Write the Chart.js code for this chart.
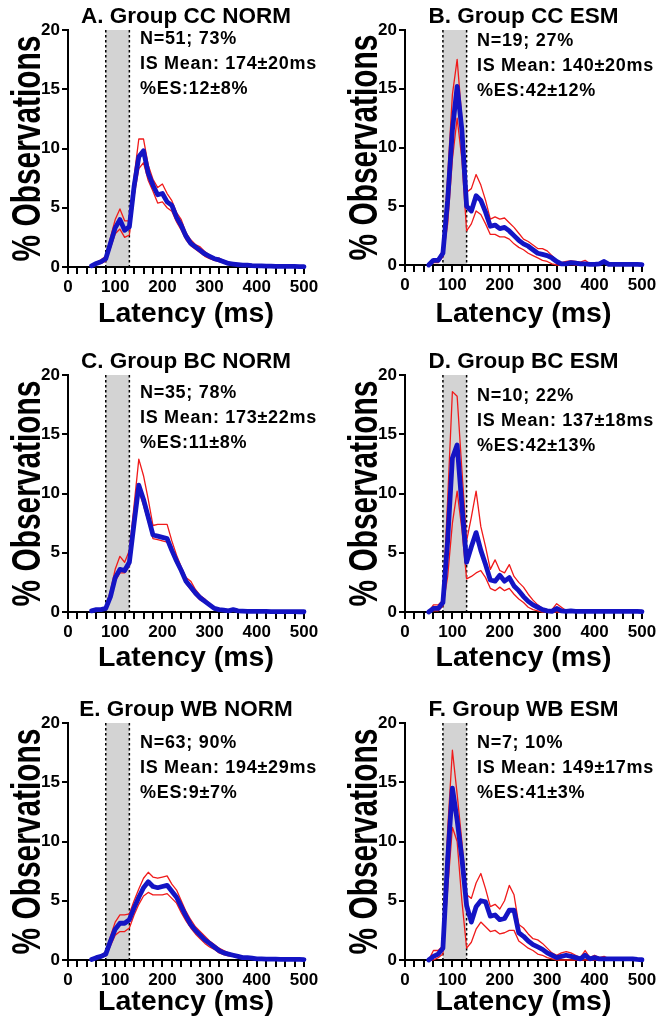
<!DOCTYPE html>
<html lang="en">

<head>
    <meta charset="UTF-8">
    <title>Latency distributions</title>
    <style>
        body { margin: 0; background: #fff; }
        #page { position: relative; width: 664px; height: 1032px; background: #fff; }
        .panel { position: absolute; width: 332px; height: 344px; }
    </style>
</head>

<body>
    <div id="page">
        <div class="panel" style="left:0;top:0"><canvas id="cA" width="332" height="344"></canvas></div>
        <div class="panel" style="left:332px;top:0"><canvas id="cB" width="332" height="344"></canvas></div>
        <div class="panel" style="left:0;top:344px"><canvas id="cC" width="332" height="344"></canvas></div>
        <div class="panel" style="left:332px;top:344px"><canvas id="cD" width="332" height="344"></canvas></div>
        <div class="panel" style="left:0;top:688px"><canvas id="cE" width="332" height="344"></canvas></div>
        <div class="panel" style="left:332px;top:688px"><canvas id="cF" width="332" height="344"></canvas></div>
    </div>

    <script src="https://cdn.jsdelivr.net/npm/chart.js"></script>
    <script>
        // latency bins (ms)
        const latency = [50, 60, 70, 80, 90, 100, 110, 120, 130, 140, 150, 160, 170, 180, 190, 200, 210, 220, 230, 240,
            250, 260, 270, 280, 290, 300, 310, 320, 330, 340, 350, 360, 370, 380, 390, 400, 410, 420, 430, 440,
            450, 460, 470, 480, 490, 500];
        const xTicks = [0, 100, 200, 300, 400, 500];
        const yTicks = [0, 5, 10, 15, 20];
        const band = [80, 130];

        // A. CC NORM
        const meanA = [0.1, 0.3, 0.45, 0.7, 2.0, 3.3, 4.0, 3.1, 3.4, 6.8, 9.3, 9.8, 7.9, 6.9, 6.1, 6.2, 5.5, 5.2, 4.2, 3.5, 2.6, 2.0, 1.7, 1.4, 1.1, 0.9, 0.7, 0.6, 0.45, 0.3, 0.25, 0.2, 0.15, 0.15, 0.12, 0.1, 0.1, 0.08, 0.08, 0.06, 0.06, 0.05, 0.05, 0.05, 0.04, 0.03];
        const upA = [0.15, 0.4, 0.6, 0.9, 2.5, 4.0, 4.9, 3.9, 3.9, 7.6, 10.8, 10.8, 8.6, 7.4, 6.7, 7.0, 6.2, 5.6, 4.6, 4.0, 2.9, 2.3, 1.9, 1.7, 1.3, 1.0, 0.8, 0.75, 0.55, 0.4, 0.3, 0.25, 0.2, 0.2, 0.15, 0.12, 0.12, 0.1, 0.1, 0.08, 0.08, 0.06, 0.06, 0.06, 0.05, 0.04];
        const loA = [0.05, 0.2, 0.3, 0.5, 1.6, 2.8, 3.2, 2.5, 2.7, 6.0, 8.3, 8.8, 7.3, 6.4, 5.4, 5.5, 5.0, 4.7, 3.8, 3.1, 2.3, 1.8, 1.5, 1.2, 0.9, 0.7, 0.55, 0.45, 0.35, 0.2, 0.2, 0.15, 0.1, 0.1, 0.08, 0.06, 0.06, 0.05, 0.05, 0.04, 0.04, 0.03, 0.03, 0.03, 0.02, 0.02];

        // B. CC ESM
        const meanB = [0, 0.4, 0.4, 1.0, 5.5, 11.5, 15.2, 11.5, 5.0, 4.6, 5.9, 5.5, 4.5, 3.3, 3.4, 3.1, 3.2, 2.9, 2.5, 2.1, 1.8, 1.6, 1.3, 1.0, 0.9, 0.8, 0.6, 0.3, 0.1, 0.1, 0.2, 0.15, 0.1, 0.1, 0.05, 0.05, 0.1, 0.3, 0.05, 0.05, 0.05, 0.05, 0.05, 0.05, 0.05, 0.03];
        const upB = [0, 0.5, 0.5, 1.3, 7.5, 14.5, 17.5, 12.5, 6.2, 6.5, 7.7, 6.8, 5.5, 3.9, 4.1, 3.9, 4.0, 3.6, 3.2, 2.7, 2.2, 2.0, 1.7, 1.4, 1.4, 1.2, 0.8, 0.4, 0.2, 0.3, 0.35, 0.3, 0.25, 0.4, 0.1, 0.1, 0.15, 0.35, 0.1, 0.1, 0.1, 0.1, 0.1, 0.08, 0.08, 0.05];
        const loB = [0, 0.2, 0.2, 0.7, 3.5, 9.0, 12.5, 9.0, 2.9, 3.5, 4.6, 4.3, 3.5, 2.6, 2.6, 2.4, 2.4, 2.2, 1.8, 1.5, 1.3, 1.0, 0.8, 0.6, 0.4, 0.3, 0.1, 0, 0, 0, 0.05, 0, 0, 0, 0, 0, 0.05, 0.2, 0, 0, 0, 0, 0, 0, 0, 0];

        // C. BC NORM
        const meanC = [0.1, 0.2, 0.2, 0.3, 1.3, 2.9, 3.6, 3.5, 4.2, 7.5, 10.7, 9.5, 8.0, 6.5, 6.4, 6.3, 6.2, 5.2, 4.3, 3.5, 2.6, 2.1, 1.6, 1.2, 0.9, 0.6, 0.3, 0.2, 0.15, 0.1, 0.2, 0.1, 0.08, 0.06, 0.05, 0.05, 0.05, 0.05, 0.04, 0.04, 0.04, 0.03, 0.03, 0.03, 0.02, 0.02];
        const upC = [0.12, 0.25, 0.25, 0.4, 1.8, 3.6, 4.7, 4.2, 5.2, 9.0, 12.9, 11.5, 9.5, 7.3, 7.4, 7.4, 7.4, 6.0, 4.8, 3.8, 2.9, 2.6, 1.9, 1.4, 1.1, 0.7, 0.4, 0.3, 0.2, 0.15, 0.25, 0.15, 0.1, 0.08, 0.07, 0.06, 0.06, 0.06, 0.05, 0.05, 0.05, 0.04, 0.04, 0.04, 0.03, 0.03];
        const loC = [0.08, 0.15, 0.15, 0.25, 1.1, 2.6, 3.3, 3.3, 3.9, 7.0, 10.2, 9.0, 7.6, 6.2, 6.1, 6.0, 5.9, 5.0, 4.1, 3.3, 2.4, 1.9, 1.4, 1.0, 0.8, 0.5, 0.25, 0.15, 0.1, 0.08, 0.15, 0.08, 0.06, 0.05, 0.04, 0.04, 0.04, 0.04, 0.03, 0.03, 0.03, 0.02, 0.02, 0.02, 0.01, 0.01];

        // D. BC ESM
        const meanD = [0, 0.3, 0.3, 0.8, 6.0, 13.0, 14.1, 9.0, 4.2, 5.5, 6.7, 5.2, 4.0, 2.7, 2.6, 3.1, 2.6, 2.9, 2.2, 1.8, 1.3, 0.9, 0.6, 0.4, 0.2, 0.1, 0.05, 0.3, 0.1, 0.05, 0.1, 0.05, 0.05, 0.05, 0.05, 0.05, 0.05, 0.05, 0.05, 0.05, 0.05, 0.05, 0.05, 0.05, 0.05, 0.03];
        const upD = [0, 0.6, 0.6, 1.0, 9.5, 18.6, 18.2, 12.0, 6.0, 8.0, 10.2, 7.2, 5.5, 3.6, 4.4, 3.5, 3.3, 4.0, 3.0, 2.5, 2.1, 1.5, 1.0, 0.6, 0.3, 0.2, 0.2, 0.7, 0.4, 0.1, 0.2, 0.1, 0.1, 0.1, 0.1, 0.1, 0.1, 0.1, 0.1, 0.1, 0.1, 0.1, 0.1, 0.1, 0.1, 0.05];
        const loD = [0, 0.1, 0.1, 0.5, 3.0, 7.5, 10.2, 7.0, 2.8, 3.0, 3.3, 3.5, 2.9, 2.0, 1.8, 2.1, 1.8, 2.0, 1.5, 1.1, 0.8, 0.4, 0.2, 0.1, 0, 0, 0, 0, 0, 0, 0, 0, 0, 0, 0, 0, 0, 0, 0, 0, 0, 0, 0, 0, 0, 0];

        // E. WB NORM
        const meanE = [0.05, 0.2, 0.3, 0.5, 1.6, 2.6, 3.1, 3.1, 3.4, 4.4, 5.3, 6.1, 6.6, 6.2, 6.1, 6.2, 6.3, 5.8, 5.3, 4.5, 3.7, 3.0, 2.5, 2.1, 1.7, 1.4, 1.1, 0.8, 0.6, 0.5, 0.4, 0.3, 0.2, 0.2, 0.15, 0.1, 0.1, 0.08, 0.08, 0.07, 0.06, 0.06, 0.05, 0.05, 0.05, 0.04];
        const upE = [0.08, 0.3, 0.4, 0.7, 2.0, 3.2, 3.8, 3.8, 3.9, 5.0, 6.0, 6.9, 7.4, 7.0, 6.9, 7.0, 7.1, 6.4, 5.9, 5.0, 4.1, 3.4, 2.8, 2.4, 2.0, 1.6, 1.3, 1.0, 0.8, 0.6, 0.5, 0.4, 0.3, 0.25, 0.2, 0.15, 0.12, 0.1, 0.1, 0.08, 0.08, 0.07, 0.06, 0.06, 0.06, 0.05];
        const loE = [0.03, 0.1, 0.2, 0.35, 1.2, 2.1, 2.4, 2.4, 2.7, 3.8, 4.7, 5.4, 5.7, 5.5, 5.5, 5.5, 5.6, 5.2, 4.8, 4.0, 3.3, 2.7, 2.2, 1.8, 1.4, 1.1, 0.9, 0.6, 0.45, 0.35, 0.3, 0.2, 0.15, 0.12, 0.1, 0.07, 0.07, 0.06, 0.06, 0.05, 0.04, 0.04, 0.04, 0.04, 0.03, 0.03];

        // F. WB ESM
        const meanF = [0, 0.3, 0.5, 1.0, 8.5, 14.5, 11.8, 8.6, 4.6, 3.2, 4.5, 5.0, 4.9, 3.7, 3.8, 3.4, 3.5, 4.2, 4.2, 2.3, 2.0, 1.6, 1.3, 1.1, 0.9, 0.6, 0.4, 0.2, 0.3, 0.4, 0.3, 0.2, 0.1, 0.4, 0.1, 0.2, 0.1, 0.1, 0.1, 0.1, 0.1, 0.1, 0.1, 0.1, 0.05, 0.02];
        const upF = [0, 0.8, 0.8, 1.2, 11.0, 17.7, 14.0, 10.0, 5.5, 5.2, 6.5, 7.3, 6.0, 4.5, 4.7, 4.3, 5.0, 6.3, 5.5, 3.0, 2.7, 2.2, 1.8, 1.7, 1.4, 1.0, 0.6, 0.4, 0.6, 0.7, 0.6, 0.4, 0.2, 0.8, 0.2, 0.4, 0.2, 0.3, 0.1, 0.1, 0.1, 0.1, 0.1, 0.1, 0.08, 0.05];
        const loF = [0, 0, 0.2, 0.5, 6.0, 11.2, 10.0, 5.0, 1.0, 1.5, 2.6, 3.2, 2.8, 2.4, 2.5, 2.2, 2.3, 2.5, 2.5, 1.6, 1.3, 1.0, 0.8, 0.5, 0.4, 0.2, 0.1, 0, 0, 0, 0, 0, 0, 0, 0, 0, 0, 0, 0, 0, 0, 0, 0, 0, 0, 0];

        const BLUE = '#1414c4';
        const RED = '#f01a1a';
        const FONT = '"Liberation Sans", Arial, sans-serif';
        const Y_TITLE = '% Observations';
        Chart.defaults.font.family = FONT;
        Chart.defaults.color = '#000';

        // grey early-response window + dotted edges
        const bandPlugin = {
            id: 'band',
            beforeDraw(chart) {
                const { ctx, scales: { x, y } } = chart;
                const x1 = x.getPixelForValue(band[0]), x2 = x.getPixelForValue(band[1]);
                const yT = y.getPixelForValue(yTicks[yTicks.length - 1]), yB = y.getPixelForValue(0);
                ctx.save();
                ctx.fillStyle = '#d3d3d3';
                ctx.fillRect(x1, yT, x2 - x1, yB - yT);
                ctx.strokeStyle = '#000';
                ctx.lineWidth = 1.5;
                ctx.setLineDash([2.5, 2.5]);
                ctx.beginPath();
                ctx.moveTo(x1, yT); ctx.lineTo(x1, yB);
                ctx.moveTo(x2, yT); ctx.lineTo(x2, yB);
                ctx.stroke();
                ctx.restore();
            }
        };

        // panel title, stats text and the (narrow, tall) y title
        const notesPlugin = {
            id: 'notes',
            afterDraw(chart, args, opts) {
                const { ctx, chartArea: a } = chart;
                ctx.save();
                ctx.fillStyle = '#000';
                ctx.textBaseline = 'alphabetic';
                ctx.font = 'bold 22.5px ' + FONT;
                ctx.textAlign = 'center';
                ctx.fillText(opts.title, (a.left + a.right) / 2, a.top - 7);

                ctx.font = 'bold 18px ' + FONT;
                ctx.textAlign = 'left';
                ctx.letterSpacing = '0.7px';
                opts.lines.forEach((t, i) => ctx.fillText(t, a.left + 72, a.top + opts.dy + i * 25));
                ctx.letterSpacing = '0px';

                const size = 40;
                ctx.font = 'bold ' + size + 'px ' + FONT;
                ctx.textAlign = 'center';
                const w = ctx.measureText(Y_TITLE).width;
                ctx.translate(a.left - 42 + 0.36 * size, (a.top + a.bottom) / 2);
                ctx.rotate(-Math.PI / 2);
                ctx.scale(226 / w, 1);
                ctx.fillText(Y_TITLE, 0, 0);
                ctx.restore();
            }
        };

        function makeChart(id, title, lines, dy, geo, mean, up, lo) {
            const pts = arr => latency.map((v, i) => ({ x: v, y: arr[i] }));
            const line = (arr, color, w) => ({
                data: pts(arr), borderColor: color, borderWidth: w, pointRadius: 0,
                tension: 0, fill: false, clip: 6, borderJoinStyle: 'round', borderCapStyle: 'round'
            });
            new Chart(document.getElementById(id), {
                type: 'line',
                data: { datasets: [line(mean, BLUE, 4.8), line(up, RED, 1.3), line(lo, RED, 1.3)] },
                options: {
                    responsive: false,
                    animation: false,
                    layout: { padding: { left: geo.left - 68, right: 332 - geo.right, top: geo.top, bottom: 0 } },
                    plugins: {
                        legend: { display: false },
                        tooltip: { enabled: false },
                        notes: { title: title, lines: lines, dy: dy }
                    },
                    scales: {
                        x: {
                            type: 'linear', min: 0, max: 500,
                            afterFit: s => { s.height = 344 - geo.bottom; },
                            afterBuildTicks: s => {
                                const t = [];
                                for (let v = 0; v <= 500; v += 20) t.push({ value: v });
                                s.ticks = t;
                            },
                            ticks: {
                                autoSkip: false, maxRotation: 0, padding: 3, color: '#000',
                                font: { size: 17, weight: 'bold' },
                                callback: v => xTicks.includes(v) ? String(v) : ''
                            },
                            grid: { drawOnChartArea: false, drawTicks: true, tickLength: 7, color: '#000', lineWidth: 2 },
                            border: { display: true, color: '#000', width: 2 },
                            title: { display: true, text: 'Latency (ms)', color: '#000', font: { size: 28.5, weight: 'bold' }, padding: { top: 0, bottom: 13 } }
                        },
                        y: {
                            min: 0, max: 20,
                            afterFit: s => { s.width = 68; },
                            afterBuildTicks: s => { s.ticks = yTicks.map(v => ({ value: v })); },
                            ticks: { padding: 2, color: '#000', font: { size: 17, weight: 'bold' } },
                            grid: { drawOnChartArea: false, drawTicks: true, tickLength: 6, color: '#000', lineWidth: 2 },
                            border: { display: true, color: '#000', width: 2 },
                            title: { display: false }
                        }
                    }
                },
                plugins: [bandPlugin, notesPlugin]
            });
        }

        const geoL = (top, bottom) => ({ left: 68, right: 304, top: top, bottom: bottom });
        const geoR = (top, bottom) => ({ left: 73, right: 310, top: top, bottom: bottom });

        makeChart('cA', 'A. Group CC NORM', ['N=51; 73%', 'IS Mean: 174\u00b120ms', '%ES:12\u00b18%'], 14, geoL(30, 267), meanA, upA, loA);
        makeChart('cB', 'B. Group CC ESM', ['N=19; 27%', 'IS Mean: 140\u00b120ms', '%ES:42\u00b112%'], 16, geoR(30, 265), meanB, upB, loB);
        makeChart('cC', 'C. Group BC NORM', ['N=35; 78%', 'IS Mean: 173\u00b122ms', '%ES:11\u00b18%'], 23, geoL(31, 268), meanC, upC, loC);
        makeChart('cD', 'D. Group BC ESM', ['N=10; 22%', 'IS Mean: 137\u00b118ms', '%ES:42\u00b113%'], 26, geoR(31, 268), meanD, upD, loD);
        makeChart('cE', 'E. Group WB NORM', ['N=63; 90%', 'IS Mean: 194\u00b129ms', '%ES:9\u00b17%'], 25, geoL(35, 272), meanE, upE, loE);
        makeChart('cF', 'F. Group WB ESM', ['N=7; 10%', 'IS Mean: 149\u00b117ms', '%ES:41\u00b13%'], 25, geoR(35, 272), meanF, upF, loF);
    </script>
</body>

</html>
